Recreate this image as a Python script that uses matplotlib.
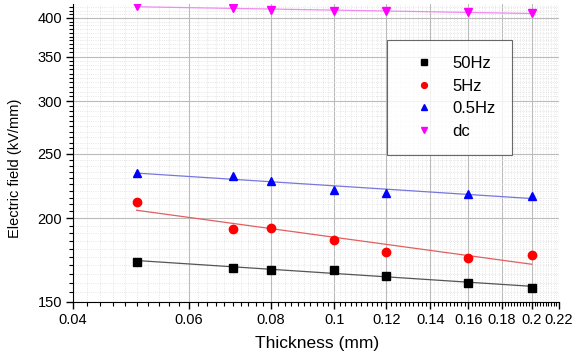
import matplotlib.pyplot as plt
import numpy as np
from matplotlib.ticker import FixedLocator, NullFormatter, MultipleLocator

plt.rcParams['font.family'] = ['Liberation Sans', 'DejaVu Sans']

# data
thickness = [0.05, 0.07, 0.08, 0.10, 0.12, 0.16, 0.20]
field_50hz = [172.3, 168.8, 167.6, 167.3, 164.0, 160.0, 157.5]
field_5hz = [211.9, 192.8, 193.5, 185.8, 178.0, 174.3, 176.5]
field_05hz = [234.1, 231.9, 227.7, 220.4, 218.6, 217.7, 216.4]
field_dc = [417.0, 413.7, 410.9, 409.9, 409.0, 408.0, 407.0]

x_ticks = [0.04, 0.06, 0.08, 0.1, 0.12, 0.14, 0.16, 0.18, 0.20, 0.22]
x_ticklabels = ['0.04', '0.06', '0.08', '0.1', '0.12', '0.14', '0.16', '0.18', '0.2', '0.22']
y_ticks = [150, 200, 250, 300, 350, 400]

series = [
    ('50Hz', field_50hz, 's', 'black', '#555555'),
    ('5Hz', field_5hz, 'o', 'red', '#e06060'),
    ('0.5Hz', field_05hz, '^', 'blue', '#7777dd'),
    ('dc', field_dc, 'v', '#ff00ff', '#f08af0'),
]

fig = plt.figure(figsize=(5.77, 3.56), dpi=100)
ax = fig.add_axes([0.1265, 0.1525, 0.8423, 0.835])
ax.set_xscale('log')
ax.set_yscale('log')

x = np.array(thickness)
for name, vals, mk, col, lcol in series:
    # power law fit, straight on log-log
    p = np.polyfit(np.log(x), np.log(vals), 1)
    ax.plot(x, np.exp(np.polyval(p, np.log(x))), color=lcol, lw=0.9, zorder=2)
    ax.plot(x, vals, mk, color=col, ms=6 if mk != 's' else 5.5, label=name,
            linestyle='none', zorder=3)

ax.set_xlim(0.04, 0.22)
ax.set_ylim(150, 419)

ax.xaxis.set_major_locator(FixedLocator(x_ticks))
ax.xaxis.set_minor_locator(MultipleLocator(0.002))
ax.xaxis.set_minor_formatter(NullFormatter())
ax.set_xticklabels(x_ticklabels)
ax.yaxis.set_major_locator(FixedLocator(y_ticks))
ax.yaxis.set_minor_locator(MultipleLocator(5))
ax.yaxis.set_minor_formatter(NullFormatter())
ax.set_yticklabels([str(v) for v in y_ticks])

ax.grid(which='major', color='#bbbbbb', lw=0.8)
ax.grid(which='minor', color='#dddddd', lw=0.6, linestyle=':')
ax.set_axisbelow(True)

ax.spines['top'].set_visible(False)
ax.spines['right'].set_visible(False)
ax.tick_params(which='major', direction='out', length=5, width=1, labelsize=10.5, pad=3)
ax.tick_params(which='minor', direction='out', length=3, width=0.8)

ax.set_xlabel('Thickness (mm)', fontsize=12.5, va='center')
ax.xaxis.set_label_coords(0.503, -0.139)
ax.set_ylabel('Electric field (kV/mm)', fontsize=10.5, va='center')
ax.yaxis.set_label_coords(-0.12, 0.45)

leg = ax.legend(loc='upper left', bbox_to_anchor=(0.646, 0.882), fontsize=12,
                frameon=True, fancybox=False, edgecolor='#444444', borderpad=1.0,
                borderaxespad=0, handlelength=2.5, handletextpad=0.4,
                labelspacing=0.45, markerscale=0.7)
leg.get_frame().set_linewidth(0.8)

fig.savefig('out.png', dpi=100)
